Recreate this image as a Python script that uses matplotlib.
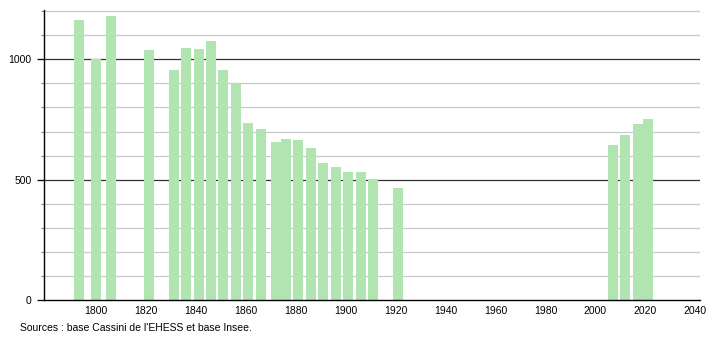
import matplotlib
matplotlib.use("Agg")
import matplotlib.pyplot as plt
from matplotlib.ticker import MultipleLocator

years = [1793, 1800, 1806, 1821, 1831, 1836, 1841, 1846, 1851, 1856, 1861, 1866,
         1872, 1876, 1881, 1886, 1891, 1896, 1901, 1906, 1911, 1921,
         2007, 2012, 2017, 2021]
population = [1163, 1000, 1181, 1039, 955, 1047, 1043, 1076, 955, 900, 735, 710,
              658, 670, 665, 633, 569, 553, 532, 532, 503, 465,
              646, 685, 731, 751]
xticks = [1800, 1820, 1840, 1860, 1880, 1900, 1920, 1940, 1960, 1980, 2000, 2020, 2040]
yticks = [0, 500, 1000]
source = "Sources : base Cassini de l'EHESS et base Insee."

plt.rcParams['font.family'] = ['Liberation Sans', 'DejaVu Sans']

fig = plt.figure(figsize=(7.1, 3.4), dpi=100)
ax = fig.add_axes([44/710, 40/340, 656/710, 290/340])

ax.set_xlim(1779.1, 2041.9)
ax.set_ylim(0, 1205)

# grid lines
for v in range(100, 1201, 100):
    if v % 500 == 0:
        ax.axhline(v, color='#333333', lw=0.9, zorder=1)
    else:
        ax.axhline(v, color='#c8c8c8', lw=0.9, zorder=1)

ax.bar(years, population, width=4, color='#b1e4b1', zorder=2, linewidth=0)

for s in ['top', 'right']:
    ax.spines[s].set_visible(False)
ax.spines['left'].set_color('black')
ax.spines['bottom'].set_color('black')
ax.spines['left'].set_linewidth(1)
ax.spines['bottom'].set_linewidth(1)

ax.set_yticks(yticks)
ax.yaxis.set_minor_locator(MultipleLocator(100))
ax.tick_params(axis='y', which='major', length=5, width=0.9, labelsize=7.5, pad=4, colors='black')
ax.tick_params(axis='y', which='minor', length=2, width=0.8, color='#888888')
ax.set_xticks(xticks)
ax.tick_params(axis='x', which='major', length=0, labelsize=7.5, pad=4)

fig.text(20/710, 1 - 328/340, source, fontsize=7.5, va='center', ha='left')

fig.savefig("out.png", dpi=100)
